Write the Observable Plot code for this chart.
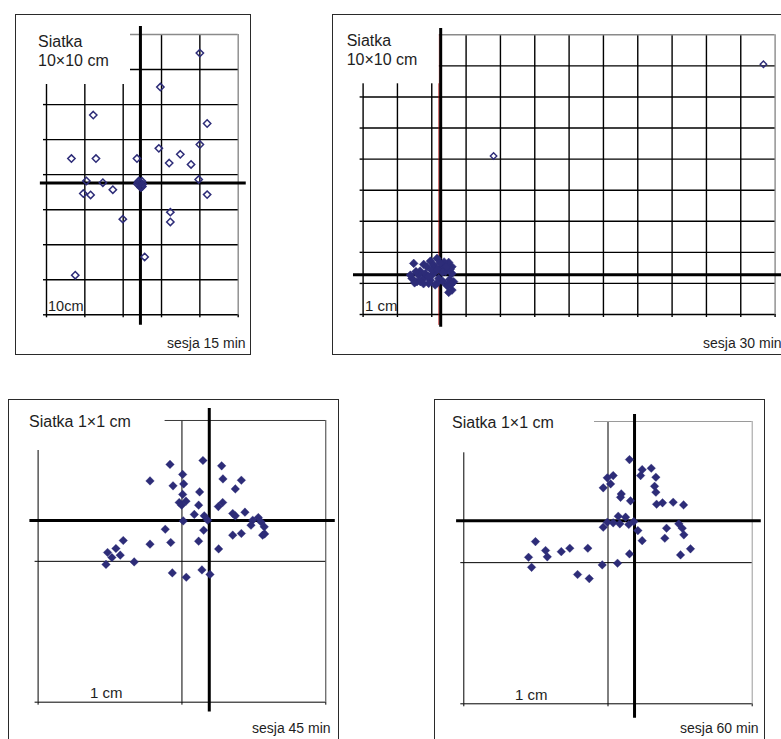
<!DOCTYPE html>
<html><head><meta charset="utf-8">
<script src="https://cdn.jsdelivr.net/npm/d3@7"></script>
<script src="https://cdn.jsdelivr.net/npm/@observablehq/plot@0.6"></script>
<style>
body{margin:0;background:#fff;font-family:"Liberation Sans",Arial,sans-serif;}
#fig{position:relative;width:781px;height:739px;overflow:hidden;background:#fff;}
.box{position:absolute;border:1px solid #2a2a2a;box-sizing:border-box;pointer-events:none;}
.lbl{position:absolute;white-space:pre;color:#1e1e1e;}
.plot{position:absolute;}
</style></head>
<body><div id="fig"></div>
<script>
// ---- DATA (cm, relative to target centre = crossing of thick axes) ----
// Session 15 min: grid 10x10 cm
const grid15X = [-24.5, -14.5, -4.5, 5.5, 15.5, 25.5];
const grid15Y = [-37.6, -27.6, -17.6, -7.6, 2.4, 12.4, 22.4, 32.4, 42.4];
const axis15V = [-40.6, 44.7];
const axis15H = [-26.1, 27.6];
const s15 = [[15.5,37.1],[5.2,27.4],[-12.3,19.4],[17.4,17.0],[-18.0,7.0],[-11.6,7.0],[-0.9,7.0],
  [4.8,9.9],[15.5,11.0],[10.4,8.2],[7.5,5.7],[13.2,5.3],[-14.1,0.6],[-9.8,0.1],[15.2,1.0],
  [-14.9,-3.0],[-13.0,-3.4],[-7.2,-1.9],
  [0,0],[-0.6,0.3],[0.6,-0.3],[0.2,-0.9],[-0.3,-0.6],[0.4,0.5],[-0.8,-0.3],[0.1,-1.3],[0.5,-1.0],[-0.4,0.6],
  [17.4,-3.3],[7.8,-8.3],[7.8,-11.1],[-4.6,-10.3],[1.1,-21.1],[-17.0,-26.3]];

// Session 30 min: grid 10x10 cm
const grid30X = [-22.6,-12.6,-2.6,7.4,17.4,27.4,37.4,47.4,57.4,67.4,77.4,87.4,97.4];
const grid30Y = [-12.8,-2.8,7.2,17.2,27.2,37.2,47.2,57.2,67.2,77.2];
const axis30V = [-16.9, 79.2];
const axis30H = [-25.4, 110];
const redLine30 = [-0.5];
const s30Near = [[-7.86,3.64],[-4.95,3.31],[-3.0,4.38],[-1.08,5.24],[2.33,3.96],[3.29,2.57],
  [-8.36,-1.19],[-6.9,-2.25],[-4.95,-1.19],[-3.0,-1.74],[-2.53,-0.13],[-1.54,0.97],[0.38,2.57],
  [1.37,0.97],[3.29,0.42],[3.79,-2.25],[1.84,-3.35],[3.29,-4.95],[2.33,-5.7],[-3.99,2.57],
  [-2.04,3.09],[-0.58,-1.19],[-6.41,-0.13],[-8.83,-0.13],[-3.5,-2.8],[-5.91,-2.25],
  [-6.0,1.2],[-4.5,0.4],[-2.0,2.0],[0.5,0.8],[-1.0,-2.6],[0.6,-2.1],[2.6,-1.5],[-7.6,-2.6],
  [1.0,4.1],[-2.6,1.4],[-5.0,-2.9],[-1.6,-3.3],[2.8,1.8],[2.0,-3.6],[-0.2,3.8],[1.6,2.6],
  [-7.2,1.0],[-3.6,-0.6],[3.0,-3.2],[-1.0,1.8]];
const s30Far = [[15.4,38.2],[94.0,67.7]];

// Session 45 min: grid 1x1 cm
const grid45X = [-1.19, -0.19, 0.81];
const grid45Y = [-1.29, -0.29, 0.71];
const axis45V = [-1.359, 0.795];
const axis45H = [-1.247, 0.876];
const s45 = [[-0.044,0.426],[-0.273,0.398],[0.086,0.388],[-0.185,0.327],[-0.412,0.281],[0.095,0.295],
  [0.223,0.286],[-0.252,0.246],[-0.178,0.26],[0.181,0.224],[-0.067,0.203],[-0.185,0.185],[-0.209,0.128],
  [-0.162,0.137],[-0.192,0.109],[-0.074,0.109],[0.063,0.099],[0.093,0.128],[-0.104,0.043],[-0.035,0.033],
  [0.163,0.05],[0.181,0.033],[0.248,0.059],[-0.181,-0.003],[-0.011,0.002],[0.302,0.002],[0.341,0.021],
  [0.29,-0.033],[0.36,-0.01],[0.382,-0.045],[0.371,-0.104],[0.385,-0.095],[-0.306,-0.062],[-0.039,-0.069],
  [0.163,-0.104],[0.223,-0.092],[-0.598,-0.142],[-0.412,-0.168],[-0.268,-0.156],[-0.074,-0.147],
  [0.065,-0.202],[-0.649,-0.199],[-0.707,-0.227],[-0.677,-0.263],[-0.619,-0.246],[-0.718,-0.312],
  [-0.522,-0.294],[-0.257,-0.372],[-0.16,-0.403],[-0.051,-0.351],[0.005,-0.383]];

// Session 60 min: grid 1x1 cm
const grid60X = [-1.184, -0.184, 0.816];
const grid60Y = [-1.296, -0.296, 0.704];
const axis60V = [-1.398, 0.753];
const axis60H = [-1.234, 0.879];
const s60 = [[-0.035,0.434],[0.053,0.363],[0.116,0.373],[0.042,0.321],[0.148,0.309],[-0.148,0.321],
  [-0.189,0.305],[-0.166,0.262],[-0.217,0.234],[0.139,0.245],[0.148,0.203],[-0.092,0.191],[-0.097,0.167],
  [-0.028,0.142],[0.153,0.118],[0.194,0.128],[0.268,0.132],[0.34,0.113],[-0.113,0.033],[-0.062,0.026],
  [-0.189,-0.01],[-0.148,-0.014],[-0.102,-0.021],[-0.04,-0.026],[-0.217,-0.045],[-0.005,-0.005],
  [0.023,-0.069],[0.307,-0.021],[0.331,-0.052],[0.222,-0.052],[0.342,-0.099],[0.21,-0.123],[0.053,-0.14],
  [0.388,-0.198],[0.319,-0.241],[-0.035,-0.234],[-0.687,-0.147],[-0.617,-0.21],[-0.605,-0.255],
  [-0.508,-0.218],[-0.449,-0.194],[-0.324,-0.194],[-0.735,-0.258],[-0.714,-0.329],[-0.224,-0.312],
  [-0.118,-0.3],[-0.395,-0.38],[-0.314,-0.409]];

const titles = ["Siatka\n10×10 cm", "Siatka\n10×10 cm", "Siatka 1×1 cm", "Siatka 1×1 cm"];
const unitLabels = ["10cm", "1 cm", "1 cm", "1 cm"];
const sessions = ["sesja 15 min", "sesja 30 min", "sesja 45 min", "sesja 60 min"];

// ---- STYLE / LAYOUT ----
const NAVY = "#2d2c78";
const SVGNS = "http://www.w3.org/2000/svg";
const fig = document.getElementById("fig");

function cover(w, h) {
  return () => {
    const r = document.createElementNS(SVGNS, "rect");
    r.setAttribute("x", 0); r.setAttribute("y", 0);
    r.setAttribute("width", w); r.setAttribute("height", h);
    r.setAttribute("fill", "#fff");
    return r;
  };
}

function panel(L) {
  const gx = L.gx, gy = L.gy, gw = L.gw;
  const x0 = gx[0], x1 = gx[gx.length - 1], y0 = gy[0], y1 = gy[gy.length - 1];
  const marks = [
    Plot.axisX({ticks: gx, tickSize: 3, tickFormat: () => "", label: null, anchor: "bottom", strokeWidth: gw}),
    Plot.axisY({ticks: gy, tickSize: 3, tickFormat: () => "", label: null, anchor: "left", strokeWidth: gw}),
    Plot.ruleX(gx.slice(0, -1), {y1: y0, y2: y1, stroke: "#000", strokeWidth: gw}),
    Plot.ruleX([x1], {y1: y0, y2: y1, stroke: L.edge, strokeWidth: gw}),
    Plot.ruleY(gy.slice(1, -1), {x1: x0, x2: x1, stroke: "#000", strokeWidth: gw}),
    Plot.ruleY([y1], {x1: x0, x2: x1, stroke: L.edge, strokeWidth: gw}),
    Plot.ruleY([y0], {x1: x0, x2: x1, stroke: "#000", strokeWidth: gw}),
    ...(L.pre || []),
    cover(L.coverW, L.coverH),
    Plot.ruleX([0], {y1: L.axV[0], y2: L.axV[1], stroke: "#000", strokeWidth: 3}),
    Plot.ruleY([0], {x1: L.axH[0], x2: L.axH[1], stroke: "#000", strokeWidth: 3}),
    ...L.dots
  ];
  const svg = Plot.plot({
    width: L.width, height: L.height,
    marginLeft: L.ml, marginRight: L.mr, marginTop: L.mt, marginBottom: L.mb,
    x: {type: "linear", domain: [x0, x1]},
    y: {type: "linear", domain: [y0, y1]},
    style: {background: "transparent", overflow: "visible"},
    marks
  });
  svg.classList.add("plot");
  svg.style.left = L.left + "px";
  svg.style.top = L.top + "px";
  fig.appendChild(svg);
  const b = document.createElement("div");
  b.className = "box";
  Object.assign(b.style, {left: L.left + "px", top: L.top + "px", width: L.width + "px", height: L.height + "px"});
  fig.appendChild(b);
}

function label(text, left, top, size, lh) {
  const d = document.createElement("div");
  d.className = "lbl";
  d.textContent = text;
  Object.assign(d.style, {left: left + "px", top: top + "px", fontSize: size + "px", lineHeight: lh + "px"});
  fig.appendChild(d);
}

const xy = {x: d => d[0], y: d => d[1]};

panel({left: 15, top: 14, width: 236, height: 341, ml: 31, mr: 13.3, mt: 20, mb: 40.7, gw: 1.4,
  gx: grid15X, gy: grid15Y, axV: axis15V, axH: axis15H, edge: "#8a8a8a", coverW: 115, coverH: 70,
  dots: [Plot.dot(s15, {...xy, symbol: "diamond2", r: 3.3, fill: "none", stroke: NAVY, strokeWidth: 1.5})]});

panel({left: 331.7, top: 14, width: 460, height: 341, ml: 30.6, mr: 17.4, mt: 20.3, mb: 41, gw: 1.4,
  gx: grid30X, gy: grid30Y, axV: axis30V, axH: axis30H, edge: "#8a8a8a", coverW: 106.8, coverH: 69.3,
  pre: [Plot.ruleX(redLine30, {y1: -16.3, y2: grid30Y[grid30Y.length - 1], stroke: "#b00000", strokeWidth: 1})],
  dots: [
    Plot.dot(s30Near, {...xy, symbol: "diamond2", r: 3.9, fill: NAVY, stroke: NAVY, strokeWidth: 0.5}),
    Plot.dot(s30Far, {...xy, symbol: "diamond2", r: 2.9, fill: "none", stroke: NAVY, strokeWidth: 1.4})
  ]});

panel({left: 7.7, top: 399, width: 331.6, height: 345, ml: 29.6, mr: 14.3, mt: 21, mb: 42.3, gw: 1,
  gx: grid45X, gy: grid45Y, axV: axis45V, axH: axis45H, edge: "#3a3a3a", coverW: 156.6, coverH: 51,
  dots: [Plot.dot(s45, {...xy, symbol: "diamond2", r: 3.9, fill: NAVY, stroke: NAVY, strokeWidth: 0.3})]});

panel({left: 434, top: 399, width: 331, height: 345, ml: 29.3, mr: 13.3, mt: 22, mb: 40.7, gw: 1,
  gx: grid60X, gy: grid60Y, axV: axis60V, axH: axis60H, edge: "#9a9a9a", coverW: 160, coverH: 53.3,
  dots: [Plot.dot(s60, {...xy, symbol: "diamond2", r: 3.9, fill: NAVY, stroke: NAVY, strokeWidth: 0.3})]});

label(titles[0], 38, 31.5, 16, 19);
label(titles[1], 346.7, 30.5, 16, 19);
label(titles[2], 29, 412, 16, 19);
label(titles[3], 452, 413, 16, 19);
label(unitLabels[0], 48, 298, 14.5, 16);
label(unitLabels[1], 365, 298, 15, 16);
label(unitLabels[2], 90, 685, 15, 16);
label(unitLabels[3], 515, 687, 15, 16);
label(sessions[0], 167, 335, 14, 16);
label(sessions[1], 703, 335, 14, 16);
label(sessions[2], 252, 720, 14, 16);
label(sessions[3], 680, 720, 14, 16);
</script>
</body></html>
